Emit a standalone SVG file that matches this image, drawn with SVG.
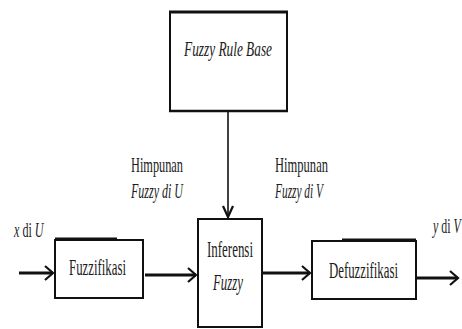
<svg xmlns="http://www.w3.org/2000/svg" width="462" height="329" viewBox="0 0 462 329">
<style>
.box{fill:#fff;stroke:#111;stroke-width:2}
.t{font-family:"Liberation Serif",serif;font-size:22px;fill:#1c1c1c}
.b{font-size:24px}
.i{font-style:italic}
.ln{stroke:#111;stroke-width:3;fill:none}
.hd{stroke:#111;stroke-width:2.2;fill:none;stroke-linejoin:miter}
</style>
<rect width="462" height="329" fill="#fff"/>
<g id="rulebase">
<rect class="box" x="170" y="12" width="117" height="99"/>
<line x1="169" y1="12" x2="288" y2="12" stroke="#111" stroke-width="3"/>
<line x1="169" y1="111" x2="288" y2="111" stroke="#111" stroke-width="2.5"/>
<text class="t i" x="184" y="56" font-size="21" textLength="88" lengthAdjust="spacingAndGlyphs">Fuzzy Rule Base</text>
</g>
<g id="fuzzifikasi">
<rect class="box" x="55" y="240" width="88" height="58"/>
<line x1="55" y1="238.5" x2="117" y2="238.5" stroke="#111" stroke-width="2"/>
<text class="t b" x="69" y="275" textLength="57" lengthAdjust="spacingAndGlyphs">Fuzzifikasi</text>
</g>
<g id="inferensi">
<rect class="box" x="198" y="219" width="64" height="108"/>
<text class="t b" x="207" y="257" textLength="46" lengthAdjust="spacingAndGlyphs">Inferensi</text>
<text class="t b i" x="213" y="290" textLength="30" lengthAdjust="spacingAndGlyphs">Fuzzy</text>
</g>
<g id="defuzzifikasi">
<rect class="box" x="312" y="241" width="104" height="58"/>
<line x1="342" y1="239.5" x2="416" y2="239.5" stroke="#111" stroke-width="2"/>
<text class="t b" x="329" y="278" textLength="69" lengthAdjust="spacingAndGlyphs">Defuzzifikasi</text>
</g>
<g id="connectors">
<line x1="228" y1="112" x2="228" y2="217" stroke="#111" stroke-width="1.6"/>
<polyline class="hd" points="223,206 228,217 233,206"/>
<line class="ln" x1="19" y1="273" x2="53" y2="273"/>
<polyline class="hd" points="45,266 53,273 45,280"/>
<line class="ln" x1="145" y1="275" x2="196" y2="275"/>
<polyline class="hd" points="188,268 196,275 188,282"/>
<line class="ln" x1="262" y1="273" x2="310" y2="273"/>
<polyline class="hd" points="302,266 310,273 302,280"/>
<line class="ln" x1="417" y1="278" x2="458" y2="278"/>
<polyline class="hd" points="450,271 458,278 450,285"/>
</g>
<g id="labels">
<text class="t" x="131" y="172" textLength="52" lengthAdjust="spacingAndGlyphs">Himpunan</text>
<text class="t i" x="131" y="198" textLength="52" lengthAdjust="spacingAndGlyphs">Fuzzy di U</text>
<text class="t" x="275" y="172" textLength="53" lengthAdjust="spacingAndGlyphs">Himpunan</text>
<text class="t i" x="275" y="198" textLength="48" lengthAdjust="spacingAndGlyphs">Fuzzy di V</text>
<text class="t" transform="translate(14,237) scale(0.55,1)"><tspan font-style="italic">x</tspan> di <tspan font-style="italic">U</tspan></text>
<text class="t" transform="translate(433,233) scale(0.54,1)"><tspan font-style="italic">y</tspan> di <tspan font-style="italic">V</tspan></text>
</g>
</svg>
